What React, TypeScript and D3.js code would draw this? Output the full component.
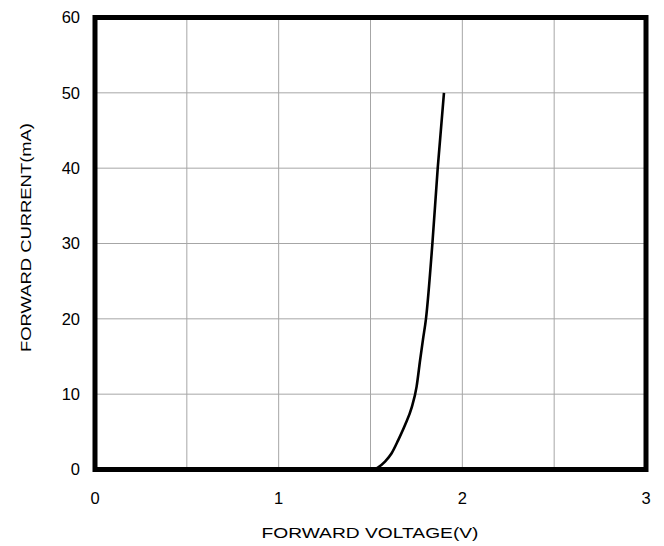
import React from "react";
import * as d3 from "d3";

const xTicks = [0, 1, 2, 3];
const yTicks = [0, 10, 20, 30, 40, 50, 60];
const xGrid = [0.5, 1, 1.5, 2, 2.5];
const yGrid = [10, 20, 30, 40, 50];
const voltage = [1.52, 1.542, 1.579, 1.615, 1.651, 1.688, 1.724, 1.751, 1.77, 1.786, 1.802, 1.837, 1.866, 1.9];
const current = [0, 0.3, 1.05, 2.15, 3.9, 5.9, 8.2, 11, 14.5, 17.3, 20, 30, 40, 50];

export default function App() {
  const W = 664, H = 546;
  const left = 95, right = 646, top = 17.5, bottom = 469.5;
  const x = d3.scaleLinear().domain([0, 3]).range([left, right]);
  const y = d3.scaleLinear().domain([0, 60]).range([bottom, top]);
  const pts: [number, number][] = voltage.map((v, i) => [v, current[i]]);
  const line = d3
    .line<[number, number]>()
    .x((d) => x(d[0]))
    .y((d) => y(d[1]))
    .curve(d3.curveMonotoneX);
  const font = "'Liberation Sans', Arial, sans-serif";
  return (
    <svg
      width={W}
      height={H}
      style={{ position: "absolute", left: 0, top: 0, background: "#fff" }}
    >
      {xGrid.map((v) => (
        <line key={"xg" + v} x1={x(v)} x2={x(v)} y1={top} y2={bottom} stroke="#a6a6a6" strokeWidth={1} />
      ))}
      {yGrid.map((v) => (
        <line key={"yg" + v} x1={left} x2={right} y1={y(v)} y2={y(v)} stroke="#a6a6a6" strokeWidth={1} />
      ))}
      <path d={line(pts) || ""} fill="none" stroke="#000" strokeWidth={2.6} />
      <rect x={left} y={top} width={right - left} height={bottom - top} fill="none" stroke="#000" strokeWidth={5} />
      {yTicks.map((v) => (
        <text key={"yt" + v} x={80} y={y(v)} dy="0.36em" textAnchor="end" fontFamily={font} fontSize={16.5} fill="#000">
          {v}
        </text>
      ))}
      {xTicks.map((v) => (
        <text key={"xt" + v} x={x(v)} y={504} textAnchor="middle" fontFamily={font} fontSize={16.5} fill="#000">
          {v}
        </text>
      ))}
      <text
        x={370}
        y={538}
        textAnchor="middle"
        fontFamily={font}
        fontSize={14.5}
        textLength={217}
        lengthAdjust="spacingAndGlyphs"
        fill="#000"
      >
        FORWARD VOLTAGE(V)
      </text>
      <text
        transform={`translate(30.5,237.5) rotate(-90)`}
        textAnchor="middle"
        fontFamily={font}
        fontSize={14.5}
        textLength={229}
        lengthAdjust="spacingAndGlyphs"
        fill="#000"
      >
        FORWARD CURRENT(mA)
      </text>
    </svg>
  );
}
